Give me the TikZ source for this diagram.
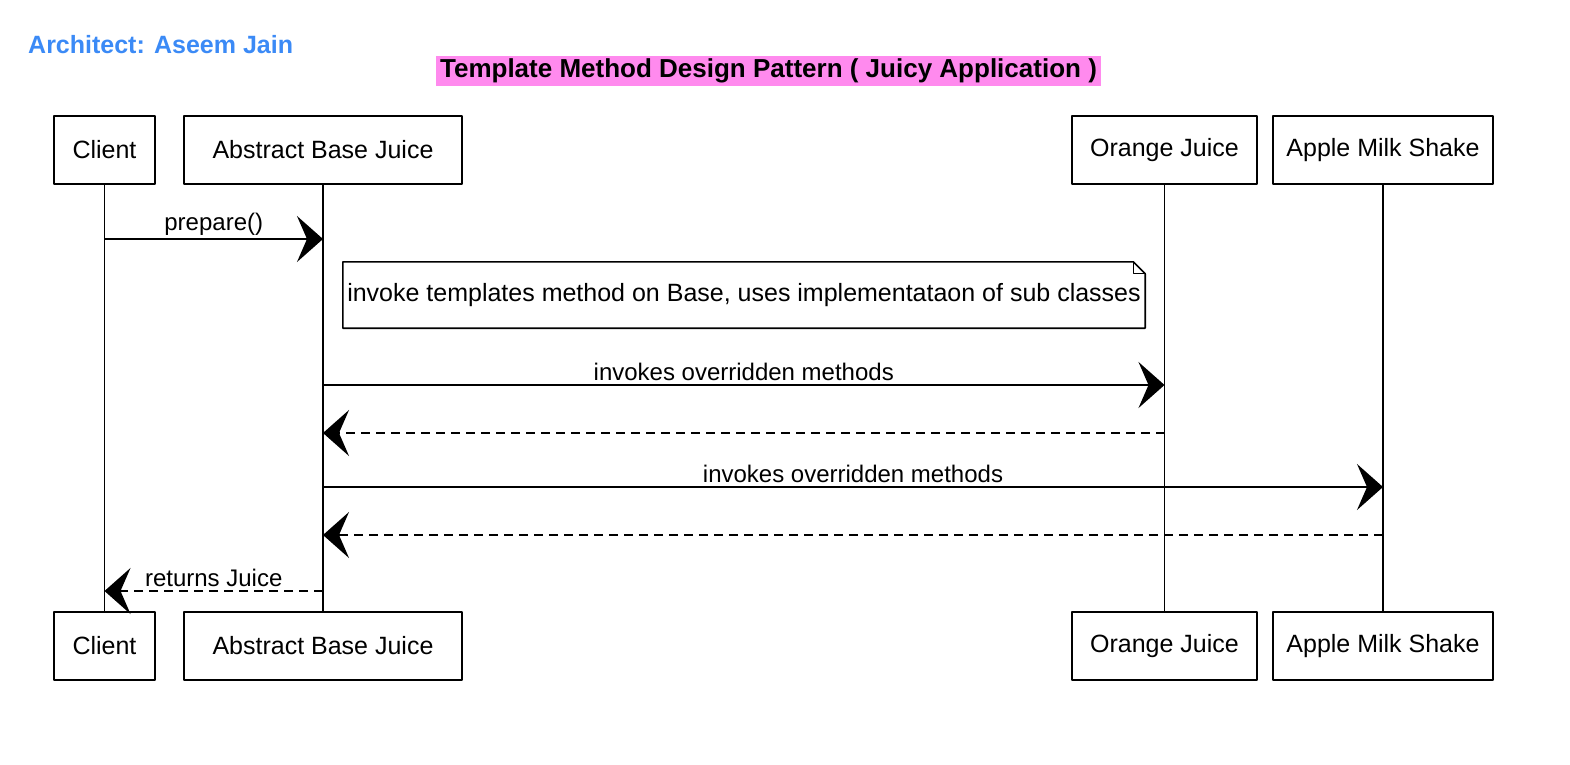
\documentclass[tikz,border=0pt]{standalone}
\usepackage{fontspec}
\setmainfont{Liberation Sans}
\usepackage{tikz}
\usetikzlibrary{arrows.meta, positioning}
\usepackage{xcolor}
\definecolor{architectblue}{RGB}{59,138,246}
\definecolor{titlepink}{RGB}{255,138,238}
\tikzset{participantnode/.style={rectangle, draw=black, line width=1.6pt, minimum height=68pt, inner sep=0pt, font=\fontsize{25}{28}\selectfont},lifeline/.style={draw=black, line width=1.5pt}}

\begin{document}
\begin{tikzpicture}[
        x=1pt, y=-1pt,
        line join=round,
        callarrow/.style={line width=1.8pt, -{Stealth[length=26pt, width=46pt, inset=10pt]}},
        returnarrow/.style={callarrow, dash pattern=on 9pt off 6pt},
        msglabel/.style={font=\fontsize{24}{28}\selectfont, inner sep=3pt},
        notenode/.style={rectangle, minimum width=802pt, minimum height=66pt, inner sep=0pt, font=\fontsize{25}{28}\selectfont}
    ]
        \useasboundingbox (0,0) rectangle (1570,764);
        % Header
        \node[anchor=west, inner sep=0pt, text=architectblue, font=\fontsize{25}{28}\selectfont\bfseries] (architect) at (28,45) {Architect: Aseem Jain};
        \node[fill=titlepink, minimum width=665pt, minimum height=30pt, inner sep=0pt, font=\fontsize{26}{28}\selectfont\bfseries] (title) at (768.5,71) {Template Method Design Pattern ( Juicy Application )};
        % Participants
        \node[participantnode, minimum width=101pt] (clientTop) at (104.5,150) {Client};
        \node[participantnode, minimum width=278pt] (baseTop) at (323,150) {Abstract Base Juice};
        \node[participantnode, minimum width=185pt] (orangeTop) at (1164.5,150) {Orange Juice};
        \node[participantnode, minimum width=220pt] (appleTop) at (1383,150) {Apple Milk Shake};
        \node[participantnode, minimum width=101pt] (clientBottom) at (104.5,646) {Client};
        \node[participantnode, minimum width=278pt] (baseBottom) at (323,646) {Abstract Base Juice};
        \node[participantnode, minimum width=185pt] (orangeBottom) at (1164.5,646) {Orange Juice};
        \node[participantnode, minimum width=220pt] (appleBottom) at (1383,646) {Apple Milk Shake};
        % Lifelines
        \draw[lifeline] (clientTop) -- (clientBottom);
        \draw[lifeline] (baseTop) -- (baseBottom);
        \draw[lifeline] (orangeTop) -- (orangeBottom);
        \draw[lifeline] (appleTop) -- (appleBottom);
        % Note
        \node[notenode] (note) at (744,295) {invoke templates method on Base, uses implementataon of sub classes};
        \draw[line width=1.6pt] (note.south west) -- (note.north west) -- ([xshift=-12pt]note.north east) -- ([yshift=-12pt]note.north east) -- (note.south east) -- cycle;
        \draw[line width=1.2pt] ([xshift=-12pt]note.north east) -- ([xshift=-12pt, yshift=-12pt]note.north east) -- ([yshift=-12pt]note.north east);
        % Message ends on the lifelines
        \coordinate (prepareFrom) at (clientTop.south |- 0,239);
        \coordinate (prepareTo) at (baseTop.south |- 0,239);
        \coordinate (orangeCallFrom) at (baseTop.south |- 0,385);
        \coordinate (orangeCallTo) at (orangeTop.south |- 0,385);
        \coordinate (orangeBackFrom) at (orangeTop.south |- 0,433);
        \coordinate (orangeBackTo) at (baseTop.south |- 0,433);
        \coordinate (appleCallFrom) at (baseTop.south |- 0,487);
        \coordinate (appleCallTo) at (appleTop.south |- 0,487);
        \coordinate (appleBackFrom) at (appleTop.south |- 0,535);
        \coordinate (appleBackTo) at (baseTop.south |- 0,535);
        \coordinate (juiceBackFrom) at (baseTop.south |- 0,591);
        \coordinate (juiceBackTo) at (clientTop.south |- 0,591);
        % Messages
        \draw[callarrow] (prepareFrom) -- (prepareTo) node[midway, above, msglabel] {prepare()};
        \draw[callarrow] (orangeCallFrom) -- (orangeCallTo) node[midway, above, msglabel] {invokes overridden methods};
        \draw[returnarrow] (orangeBackFrom) -- (orangeBackTo);
        \draw[callarrow] (appleCallFrom) -- (appleCallTo) node[midway, above, msglabel] {invokes overridden methods};
        \draw[returnarrow] (appleBackFrom) -- (appleBackTo);
        \draw[returnarrow] (juiceBackFrom) -- (juiceBackTo) node[midway, above, msglabel] {returns Juice};
    \end{tikzpicture}
\end{document}
